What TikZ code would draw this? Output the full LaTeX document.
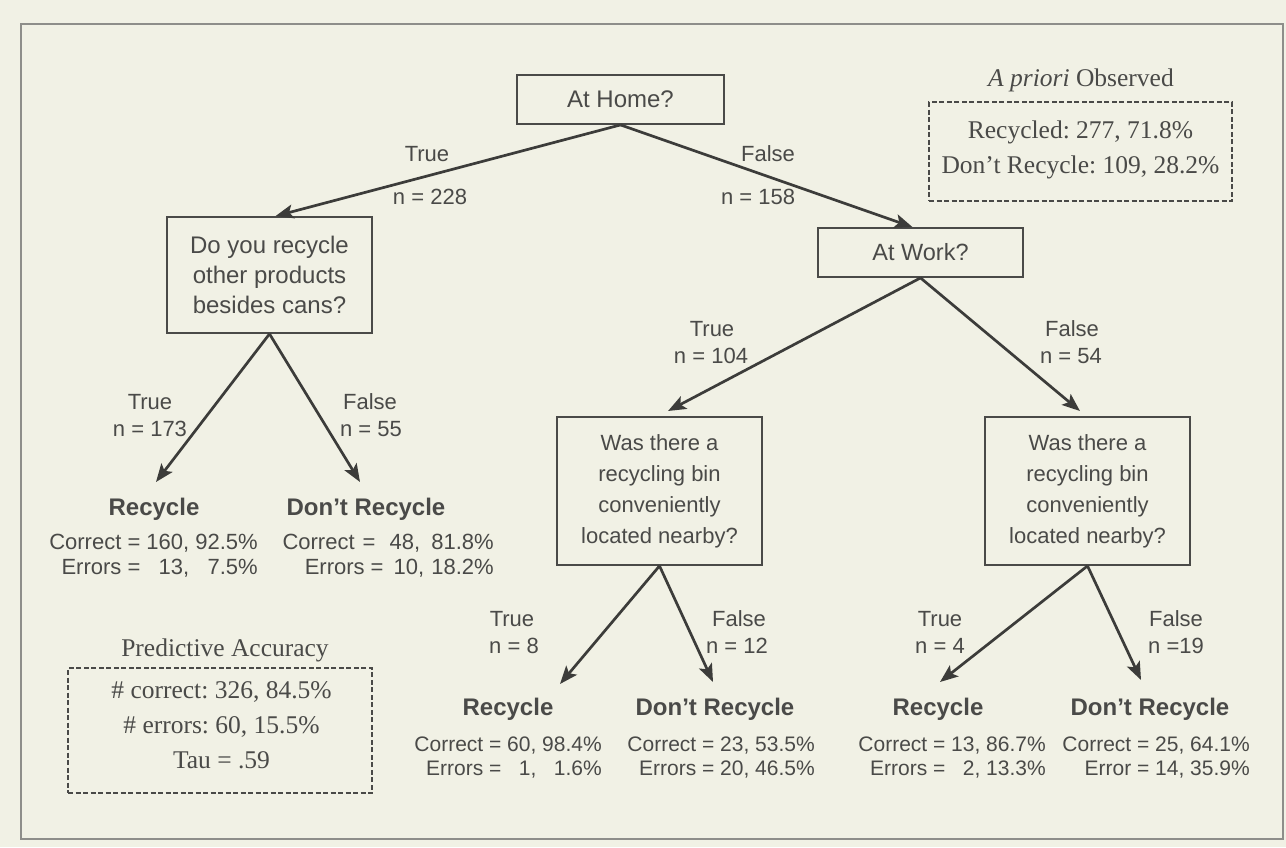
\documentclass[tikz,border=0pt]{standalone}
\usepackage{fontspec}
\setmainfont{Liberation Sans}
\newfontfamily\tnr{Liberation Serif}
\usetikzlibrary{arrows.meta}
\definecolor{paper}{HTML}{F1F1E5}
\definecolor{ink}{HTML}{4A4A48}
\definecolor{linec}{HTML}{3C3C3A}
\definecolor{framec}{HTML}{8E8E8A}
\frenchspacing
\begin{document}
\begin{tikzpicture}[x=1pt,y=-1pt,
  every node/.style={text=ink, inner sep=0pt, font=\fontsize{22}{25}\selectfont},
  qbox/.style={draw=ink, line width=1.8pt, align=center, minimum width=205pt},
  lab/.style={anchor=base},
  leaf/.style={anchor=base, font=\bfseries\fontsize{24}{28}\selectfont},
  stats/.style={anchor=base east},
  lowstats/.style={anchor=base east, font=\fontsize{21}{24.5}\selectfont},
  serif/.style={font=\tnr\fontsize{25.5}{35}\selectfont, align=center},
  dbox/.style={draw=ink, line width=2.2pt, dash pattern=on 5pt off 2.5pt},
  arr/.style={draw=linec, line width=2.7pt, -{Stealth[length=18pt,width=14pt,inset=4pt]}}]
\useasboundingbox (0,0) rectangle (1286,847);
\fill[paper] (0,0) rectangle (1286,847);
\draw[framec, line width=2pt] (21,24) rectangle (1283,839);

% decision nodes
\node[qbox, minimum width=207pt, minimum height=49pt, font=\fontsize{24}{28}\selectfont] (root) at (620.5,99.5) {At Home?};
\node[qbox, minimum height=116pt, font=\fontsize{24}{30}\selectfont] (q1) at (269.5,275) {Do you recycle\\other products\\besides cans?};
\node[qbox, minimum height=49pt, font=\fontsize{23.5}{28}\selectfont] (work) at (920.5,252.5) {At Work?};
\node[qbox, minimum height=148pt, font=\fontsize{22}{31}\selectfont] (w1) at (659.5,491) {Was there a\\recycling bin\\conveniently\\located nearby?};
\node[qbox, minimum height=148pt, font=\fontsize{22}{31}\selectfont] (w2) at (1087.5,491) {Was there a\\recycling bin\\conveniently\\located nearby?};

% arrow tip coordinates
\coordinate (t1) at (156,482);
\coordinate (t2) at (360,482);
\coordinate (t3) at (668,411);
\coordinate (t4) at (1080,411);
\coordinate (t5) at (560,684);
\coordinate (t6) at (713,682);
\coordinate (t7) at (940,682);
\coordinate (t8) at (1141,680);

\draw[arr] (root.south) -- ([xshift=6pt]q1.north);
\draw[arr] (root.south) -- ([xshift=-8pt]work.north);
\draw[arr] (q1.south) -- (t1);
\draw[arr] (q1.south) -- (t2);
\draw[arr] (work.south) -- (t3);
\draw[arr] (work.south) -- (t4);
\draw[arr] (w1.south) -- (t5);
\draw[arr] (w1.south) -- (t6);
\draw[arr] (w2.south) -- (t7);
\draw[arr] (w2.south) -- (t8);

% branch labels
\node[lab] (lt1) at (427,161) {True};
\node[lab] (ln1) at (430,204) {n = 228};
\node[lab] (lf1) at (768,161) {False};
\node[lab] (lm1) at (758,204) {n = 158};
\node[lab] (lt2) at (150,409) {True};
\node[lab] (ln2) at (150,436) {n = 173};
\node[lab] (lf2) at (370,409) {False};
\node[lab] (lm2) at (371,436) {n = 55};
\node[lab] (lt3) at (712,336) {True};
\node[lab] (ln3) at (711,363) {n = 104};
\node[lab] (lf3) at (1072,336) {False};
\node[lab] (lm3) at (1071,363) {n = 54};
\node[lab] (lt4) at (512,626) {True};
\node[lab] (ln4) at (514,653) {n = 8};
\node[lab] (lf4) at (739,626) {False};
\node[lab] (lm4) at (737,653) {n = 12};
\node[lab] (lt5) at (940,626) {True};
\node[lab] (ln5) at (940,653) {n = 4};
\node[lab] (lf5) at (1176,626) {False};
\node[lab] (lm5) at (1176,653) {n =19};

% leaves
\node[leaf] (r1) at (154,515) {Recycle};
\node[leaf] (d1) at (366,515) {Don’t Recycle};
\node[leaf] (r2) at (508,715) {Recycle};
\node[leaf] (d2) at (715,715) {Don’t Recycle};
\node[leaf] (r3) at (938,715) {Recycle};
\node[leaf] (d3) at (1150,715) {Don’t Recycle};

\node[stats] (s1) at (258,549) {\begin{tabular}[t]{@{}r@{ = }r@{, }r@{}}Correct & 160 & 92.5\%\\ Errors & 13 & 7.5\%\end{tabular}};
\node[stats] (s2a) at (494,549) {Correct\hspace{2pt} =\hspace{8pt} 48,\hspace{5pt} 81.8\%};
\node[stats] (s2b) at (494,574) {Errors =\hspace{4pt} 10,\hspace{1pt} 18.2\%};
\node[lowstats] (s3) at (602,751) {\begin{tabular}[t]{@{}r@{ = }r@{, }r@{}}Correct & 60 & 98.4\%\\ Errors & 1 & 1.6\%\end{tabular}};
\node[lowstats] (s4) at (815,751) {\begin{tabular}[t]{@{}r@{ = }r@{, }r@{}}Correct & 23 & 53.5\%\\ Errors & 20 & 46.5\%\end{tabular}};
\node[lowstats] (s5) at (1046,751) {\begin{tabular}[t]{@{}r@{ = }r@{, }r@{}}Correct & 13 & 86.7\%\\ Errors & 2 & 13.3\%\end{tabular}};
\node[lowstats] (s6) at (1250,751) {\begin{tabular}[t]{@{}r@{ = }r@{, }r@{}}Correct & 25 & 64.1\%\\ Error & 14 & 35.9\%\end{tabular}};

% a priori box
\node[serif, anchor=base] (apt) at (1081,86.5) {\textit{A priori} Observed};
\node[dbox, minimum width=303pt, minimum height=99pt] (apbox) at (1080.5,151.5) {};
\node[serif] (aptx) at (1080.5,150) {Recycled: 277, 71.8\%\\Don’t Recycle: 109, 28.2\%};

% predictive accuracy box
\node[serif, anchor=base] (pat) at (225,656.5) {Predictive Accuracy};
\node[dbox, minimum width=304pt, minimum height=125pt] (pabox) at (220,730.5) {};
\node[serif] (patx) at (221.5,725) {\# correct: 326, 84.5\%\\\# errors: 60, 15.5\%\\Tau = .59};
\end{tikzpicture}
\end{document}
